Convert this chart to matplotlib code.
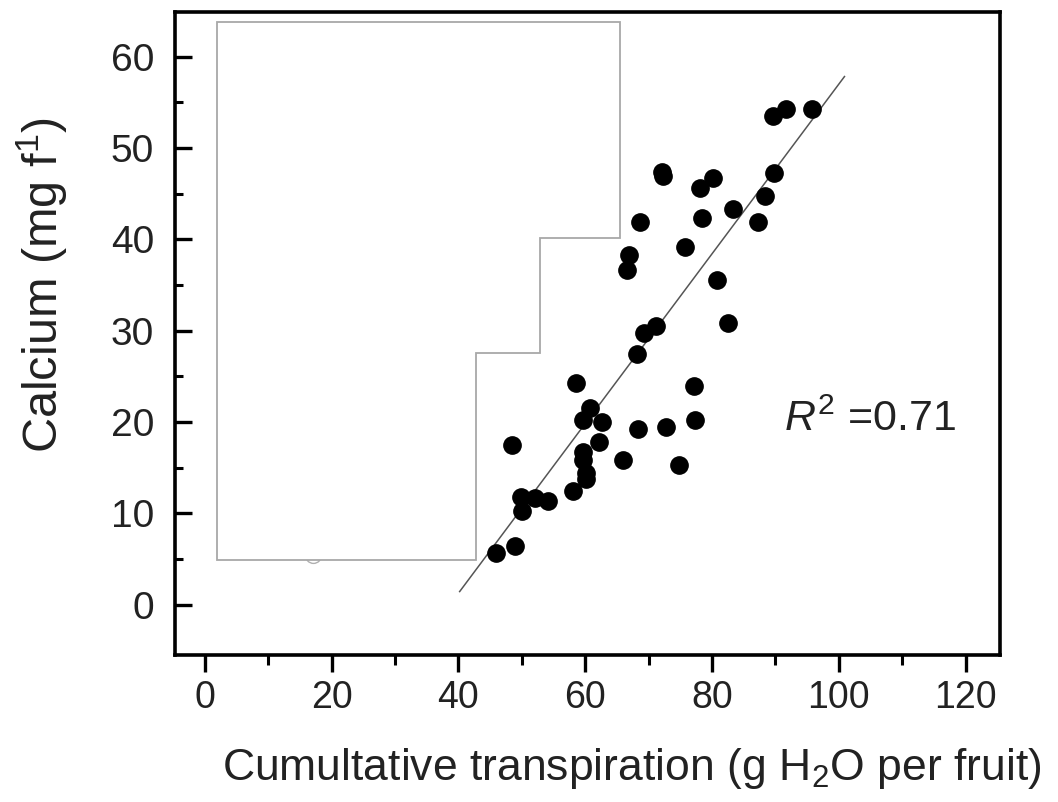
import matplotlib
matplotlib.use("Agg")
import matplotlib.pyplot as plt
from matplotlib import font_manager
from matplotlib.patches import Polygon
import numpy as np

# ---- data ----
transpiration = [45.9, 48.9, 48.5, 49.8, 50.1, 52.1, 54.2, 58.1, 58.5, 59.6,
                 59.7, 59.7, 60.1, 60.1, 60.8, 62.2, 62.7, 66.0, 68.3, 72.8,
                 77.4, 74.8, 77.1, 68.2, 69.2, 71.1, 82.6, 80.8, 66.6, 66.9,
                 75.8, 68.6, 87.3, 78.5, 83.3, 88.3, 89.8, 78.1, 80.2, 72.1,
                 72.3, 89.7, 91.7, 95.7]
calcium = [5.7, 6.4, 17.5, 11.8, 10.3, 11.7, 11.4, 12.5, 24.3, 20.2,
           16.7, 15.9, 14.4, 13.8, 21.5, 17.8, 20.0, 15.9, 19.2, 19.5,
           20.2, 15.3, 24.0, 27.5, 29.8, 30.5, 30.8, 35.6, 36.6, 38.3,
           39.2, 41.9, 41.9, 42.4, 43.3, 44.8, 47.3, 45.6, 46.7, 47.4,
           46.9, 53.5, 54.3, 54.3]
hidden_x = [17.0]
hidden_y = [5.4]

fit_slope = 0.929
fit_intercept = -35.9
fit_x_range = [40.2, 100.9]
r_squared = 0.71

mask_x = [1.9, 65.5, 65.5, 52.8, 52.8, 42.7, 42.7, 1.9]
mask_y = [63.8, 63.8, 40.2, 40.2, 27.6, 27.6, 4.9, 4.9]

x_ticks = [0, 20, 40, 60, 80, 100, 120]
y_ticks = [0, 10, 20, 30, 40, 50, 60]

# ---- fonts ----
names = {f.name for f in font_manager.fontManager.ttflist}
base_font = "Liberation Sans" if "Liberation Sans" in names else "DejaVu Sans"
narrow_font = "Liberation Sans Narrow" if "Liberation Sans Narrow" in names else base_font
plt.rcParams["font.family"] = [base_font, "DejaVu Sans"]
plt.rcParams["mathtext.fontset"] = "custom"
plt.rcParams["mathtext.rm"] = base_font
plt.rcParams["mathtext.it"] = base_font + ":italic"

fig = plt.figure(figsize=(10.58, 8.02), dpi=100)
ax = fig.add_axes([0.1654, 0.1833, 0.945 - 0.1654, 0.985 - 0.1833])

ax.set_xlim(-4.7, 125.4)
ax.set_ylim(-5.5, 64.9)

# hidden point partly visible under the mask
ax.scatter(hidden_x, hidden_y, s=130, facecolor="white", edgecolor="#b0b0b0",
           linewidth=1.0, zorder=1)

ax.scatter(transpiration, calcium, s=155, color="black", zorder=3)

lx = np.array(fit_x_range)
ax.plot(lx, fit_slope * lx + fit_intercept, color="#555555", lw=1.1, zorder=2)

ax.add_patch(Polygon(list(zip(mask_x, mask_y)), closed=True, facecolor="white",
                     edgecolor="#a8a8a8", linewidth=1.3, zorder=4))

ax.text(105, 20.3, r"$R^2$ =0.71", fontsize=31, ha="center", va="center",
        color="#222222")

for s in ax.spines.values():
    s.set_linewidth(2.6)

ax.set_xticks(x_ticks)
ax.set_yticks(y_ticks)
ax.set_xticks(np.arange(10, 120, 20), minor=True)
ax.set_yticks(np.arange(5, 65, 10), minor=True)

ax.tick_params(axis="x", which="major", direction="out", length=12, width=2.4,
               pad=6, labelsize=27)
ax.tick_params(axis="x", which="minor", direction="out", length=7, width=2.2)
ax.tick_params(axis="y", which="major", direction="in", length=12, width=2.4,
               pad=15, labelsize=28)
ax.tick_params(axis="y", which="minor", direction="in", length=6, width=2.2)

for lab in ax.get_xticklabels():
    lab.set_family([narrow_font, "DejaVu Sans"])
    lab.set_color("#222222")
for lab in ax.get_yticklabels():
    lab.set_color("#222222")

ax.set_xlabel(r"Cumultative transpiration (g H$_2$O per fruit)", fontsize=32,
              color="#222222")
ax.set_ylabel(r"Calcium (mg f$^{1}$)", fontsize=35, color="#222222")
# label anchors where they sit in the reference (pixel -> axes fraction)
ax.xaxis.set_label_coords((632 - 175) / 825, -(746 - 655) / 643)
ax.yaxis.set_label_coords(-(175 - 70) / 825, (655 - 285) / 643)

fig.savefig("out.png", dpi=100)
